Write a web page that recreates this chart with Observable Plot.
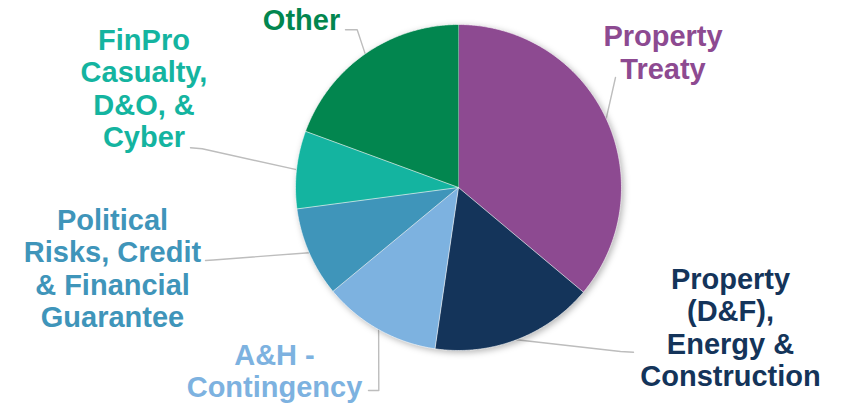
<!DOCTYPE html>
<html><head><meta charset="utf-8">
<script src="https://cdn.jsdelivr.net/npm/d3@7"></script>
<script src="https://cdn.jsdelivr.net/npm/@observablehq/plot@0.6"></script>
<style>html,body{margin:0;padding:0;background:#fff}</style>
</head><body><div id="chart"></div>
<script>
// ---- data ----
const categories = [
  "Property Treaty",
  "Property (D&F), Energy & Construction",
  "A&H - Contingency",
  "Political Risks, Credit & Financial Guarantee",
  "FinPro Casualty, D&O, & Cyber",
  "Other"
];
const shares = [36.1, 16.2, 11.7, 8.9, 7.7, 19.4];
const labelText = [
  "Property\nTreaty",
  "Property\n(D&F),\nEnergy &\nConstruction",
  "A&H -\nContingency",
  "Political\nRisks, Credit\n& Financial\nGuarantee",
  "FinPro\nCasualty,\nD&O, &\nCyber",
  "Other"
];
const colors = ["#8D4A91", "#14345A", "#7DB2E0", "#3F95BA", "#14B4A0", "#02864F"];

// ---- layout (pixels) ----
const W = 842, H = 404, CX = 458, CY = 187, R = 163;
const labelLayout = [
  {x: 662.5, y: 51.5, path: [[615, 77]]},
  {x: 730,   y: 326.5, path: [[620, 351], [633, 351.7]]},
  {x: 274,   y: 369.9, path: [[378.3, 390], [368, 390]]},
  {x: 112,   y: 267.4, path: [[213, 259.5], [205, 260]]},
  {x: 143.5, y: 87.4, path: [[201.7, 148.3], [190, 147.3]]},
  {x: 301,   y: 18.7, path: [[356.7, 29.3], [345, 29.3]]}
];
const ux = px => (px - CX) / R, uy = py => (CY - py) / R;

const arcs = d3.pie().sort(null).value(d => d.share)(
  categories.map((c, i) => ({name: c, share: shares[i]}))
);

const slicePts = [];
const leaderPts = [];
const labels = [];
arcs.forEach((a, i) => {
  const name = a.data.name;
  const n = Math.max(2, Math.ceil((a.endAngle - a.startAngle) / 0.01));
  slicePts.push({name, u: 0, v: 0});
  for (let k = 0; k <= n; k++) {
    const t = a.startAngle + (a.endAngle - a.startAngle) * k / n;
    slicePts.push({name, u: Math.sin(t), v: Math.cos(t)});
  }
  const mid = (a.startAngle + a.endAngle) / 2;
  leaderPts.push({name, u: Math.sin(mid), v: Math.cos(mid)});
  for (const [px, py] of labelLayout[i].path) leaderPts.push({name, u: ux(px), v: uy(py)});
  labels.push({name, text: labelText[i], u: ux(labelLayout[i].x), v: uy(labelLayout[i].y)});
});

const chart = Plot.plot({
  width: W, height: H, margin: 0,
  style: {background: "#fff"},
  x: {domain: [ux(0), ux(W)], axis: null},
  y: {domain: [uy(H), uy(0)], axis: null},
  color: {domain: categories, range: colors},
  marks: [
    Plot.line(leaderPts, {x: "u", y: "v", z: "name", stroke: "#BDBDBD", strokeWidth: 1.4}),
    Plot.line(slicePts, {x: "u", y: "v", z: "name", fill: "name", stroke: "#ffffff", strokeWidth: 0.6, strokeLinejoin: "round"}),
    Plot.text(labels, {x: "u", y: "v", text: "text", fill: "name", fontSize: 29, fontWeight: "bold",
      lineHeight: 1.12, fontFamily: "'Liberation Sans', Arial, Helvetica, sans-serif"})
  ]
});
const lineGroups = chart.querySelectorAll('g[aria-label="line"]');
if (lineGroups.length > 1) lineGroups[1].style.filter = "drop-shadow(2px 2px 3px rgba(0,0,0,0.28))";
document.getElementById("chart").appendChild(chart);
</script>
</body></html>
